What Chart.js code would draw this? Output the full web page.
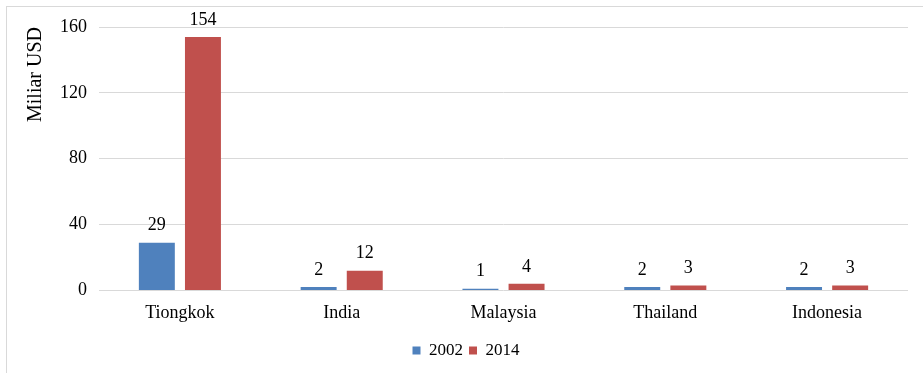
<!DOCTYPE html>
<html>
<head>
<meta charset="utf-8">
<script src="https://cdn.jsdelivr.net/npm/chart.js@4"></script>
<style>
  html, body { margin: 0; padding: 0; background: #fff; }
  #wrap { position: relative; width: 923px; height: 373px; overflow: hidden; }
  #frame { position: absolute; left: 6px; top: 6px; width: 960px; height: 420px; border: 1px solid #d9d9d9; box-sizing: border-box; }
  canvas { position: absolute; left: 0; top: 0; }
</style>
</head>
<body>
<div id="wrap">
  <div id="frame"></div>
  <canvas id="c" width="923" height="373"></canvas>
</div>
<script>
const countries = ['Tiongkok', 'India', 'Malaysia', 'Thailand', 'Indonesia'];
const values2002 = [29, 2, 1, 2, 2];
const values2014 = [154, 12, 4, 3, 3];
const yTicks = [0, 40, 80, 120, 160];

const FONT = "'Liberation Serif', 'Times New Roman', serif";

// Writes each bar's value just above it
const valueLabels = {
  id: 'valueLabels',
  afterDatasetsDraw(chart) {
    const ctx = chart.ctx;
    ctx.save();
    ctx.font = '18px ' + FONT;
    ctx.fillStyle = '#000';
    ctx.textAlign = 'center';
    ctx.textBaseline = 'bottom';
    chart.data.datasets.forEach((ds, di) => {
      chart.getDatasetMeta(di).data.forEach((bar, i) => {
        ctx.fillText(String(ds.data[i]), bar.x, bar.y - 8);
      });
    });
    ctx.restore();
  }
};

new Chart(document.getElementById('c'), {
  type: 'bar',
  data: {
    labels: countries,
    datasets: [
      { label: '2002', data: values2002, backgroundColor: '#4f81bd', borderWidth: 0 },
      { label: '2014', data: values2014, backgroundColor: '#c0504d', borderWidth: 0 }
    ]
  },
  options: {
    responsive: false,
    animation: false,
    devicePixelRatio: 1,
    layout: { padding: { left: 24, right: 15, top: 27, bottom: 4 } },
    datasets: { bar: { categoryPercentage: 0.57, barPercentage: 0.78 } },
    scales: {
      x: {
        grid: { display: false, drawTicks: false },
        border: { display: false },
        ticks: { color: '#000', font: { family: FONT, size: 18 }, padding: 12 }
      },
      y: {
        min: 0, max: 160,
        afterBuildTicks(axis) { axis.ticks = yTicks.map(v => ({ value: v })); },
        grid: { color: '#d9d9d9', drawTicks: false, lineWidth: 1 },
        border: { display: false },
        ticks: { color: '#000', font: { family: FONT, size: 18 }, padding: 12 },
        title: { display: true, align: 'end', text: 'Miliar USD', color: '#000', font: { family: FONT, size: 20 }, padding: { top: 0, bottom: 0 } }
      }
    },
    plugins: {
      legend: {
        position: 'bottom',
        labels: { color: '#000', font: { family: FONT, size: 17 }, boxWidth: 8, boxHeight: 8, padding: 6 }
      },
      tooltip: { enabled: false }
    }
  },
  plugins: [valueLabels]
});
</script>
</body>
</html>
